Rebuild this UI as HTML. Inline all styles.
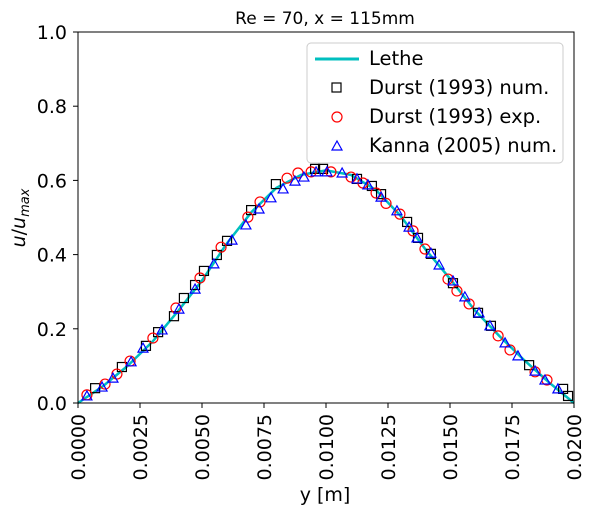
<!DOCTYPE html>
<html><head><meta charset="utf-8"><style>
html,body{margin:0;padding:0;background:#fff;}
svg{display:block;font-family:"DejaVu Sans","Liberation Sans",sans-serif;}
</style></head><body>
<svg id="chart" width="593" height="515" viewBox="0 0 593 515">
<text x="325" y="24" font-size="17" text-anchor="middle">Re = 70, x = 115mm</text>
<g id="lines"></g>
<g id="marks"></g>
<rect x="78" y="32" width="496" height="371" fill="none" stroke="#000" stroke-width="1"/>
<g id="axes"></g>
<text x="325" y="501" font-size="19" text-anchor="middle">y [m]</text>
<text transform="translate(25,218) rotate(-90)" font-size="19" text-anchor="middle"><tspan font-style="italic">u</tspan>/<tspan font-style="italic">u</tspan><tspan font-style="italic" font-size="13" dy="4">max</tspan></text>
<g>
<rect x="307" y="43" width="256" height="120" rx="4" fill="#fff" fill-opacity="0.8" stroke="#ccc"/>
<line x1="315" y1="59" x2="359" y2="59" stroke="#00bfbf" stroke-width="3"/>
<text x="369" y="65" font-size="19.5">Lethe</text>
<rect x="332" y="83" width="9" height="9" fill="none" stroke="#000" stroke-width="1.2"/>
<text x="369" y="94" font-size="19.5">Durst (1993) num.</text>
<circle cx="337" cy="117" r="5" fill="none" stroke="#f00" stroke-width="1.2"/>
<text x="369" y="123" font-size="19.5">Durst (1993) exp.</text>
<path d="M337,141 L342,150 L332,150 Z" fill="none" stroke="#00f" stroke-width="1.2"/>
<text x="369" y="152" font-size="19.5">Kanna (2005) num.</text>
</g>
</svg>
<script>
const xTicks=[0,0.0025,0.005,0.0075,0.01,0.0125,0.015,0.0175,0.02];
const xTickLabels=["0.0000","0.0025","0.0050","0.0075","0.0100","0.0125","0.0150","0.0175","0.0200"];
const yTicks=[0,0.2,0.4,0.6,0.8,1.0];
const yTickLabels=["0.0","0.2","0.4","0.6","0.8","1.0"];
const letheX=[0,0.001,0.002,0.003,0.004,0.005,0.006,0.007,0.008,0.009,0.010,0.011,0.012,0.013,0.014,0.015,0.016,0.017,0.018,0.019,0.020];
const letheY=[0,0.045,0.1,0.165,0.245,0.33,0.43,0.515,0.58,0.615,0.627,0.615,0.575,0.505,0.415,0.335,0.25,0.18,0.115,0.055,0];
const durstNumX=[0.00069,0.00177,0.00274,0.00323,0.00387,0.00427,0.00472,0.00508,0.0056,0.00601,0.00698,0.00798,0.00956,0.00988,0.01125,0.01185,0.01222,0.01327,0.01371,0.01423,0.01512,0.01613,0.01665,0.01819,0.01956,0.01976];
const durstNumY=[0.040,0.097,0.154,0.191,0.234,0.283,0.318,0.356,0.399,0.437,0.520,0.590,0.631,0.631,0.604,0.585,0.563,0.488,0.445,0.402,0.323,0.243,0.208,0.102,0.038,0.019];
const durstExpX=[0.00036,0.00109,0.00157,0.0021,0.00302,0.00395,0.00492,0.00577,0.00685,0.00734,0.00843,0.00887,0.0094,0.0102,0.01101,0.01149,0.01202,0.01242,0.01298,0.01351,0.01399,0.01492,0.01528,0.01577,0.01694,0.01742,0.01843,0.01891];
const durstExpY=[0.022,0.051,0.078,0.113,0.175,0.256,0.337,0.420,0.501,0.542,0.606,0.620,0.623,0.623,0.609,0.593,0.566,0.538,0.509,0.464,0.415,0.334,0.302,0.267,0.181,0.143,0.084,0.062];
const kannaX=[0.00036,0.00097,0.00141,0.00214,0.00262,0.00339,0.00407,0.00472,0.00548,0.00621,0.00677,0.0073,0.00778,0.00827,0.00875,0.00911,0.0096,0.01004,0.01065,0.01125,0.01169,0.01222,0.01286,0.01335,0.01367,0.01423,0.01456,0.01512,0.0156,0.01617,0.01661,0.01722,0.01774,0.01843,0.01883,0.01935];
const kannaY=[0.019,0.043,0.067,0.111,0.148,0.197,0.253,0.307,0.375,0.439,0.480,0.523,0.553,0.577,0.598,0.609,0.623,0.623,0.620,0.604,0.588,0.555,0.518,0.474,0.445,0.404,0.372,0.329,0.286,0.243,0.208,0.162,0.127,0.086,0.062,0.038];

const NS="http://www.w3.org/2000/svg";
const X0=78,X1=574,Y0=403,Y1=32;
function sx(v){return X0+(v-0)/(0.02-0)*(X1-X0);}
function sy(v){return Y0-(v-0)/(1-0)*(Y0-Y1);}
function mk(tag,attrs,parent){const e=document.createElementNS(NS,tag);for(const k in attrs)e.setAttribute(k,attrs[k]);parent.appendChild(e);return e;}
const axes=document.getElementById('axes'),lines=document.getElementById('lines'),marks=document.getElementById('marks');
xTicks.forEach((t,i)=>{
  const l=mk('line',{x1:sx(t),x2:sx(t),y1:Y0,y2:Y0+5,stroke:'#000'},axes);
  
  
  const tx=mk('text',{transform:`translate(${sx(t)+7},${Y0+11}) rotate(-90)`,'font-size':'19','text-anchor':'end'},axes);
  tx.textContent=xTickLabels[i];
  
  
});
yTicks.forEach((t,i)=>{
  const l=mk('line',{x1:X0-5,x2:X0,y1:sy(t),y2:sy(t),stroke:'#000'},axes);
  
  
  const tx=mk('text',{x:X0-11,y:sy(t)+7,'font-size':'19','text-anchor':'end'},axes);
  tx.textContent=yTickLabels[i];
  
  
});
const pts=letheX.map((x,i)=>sx(x)+','+sy(letheY[i])).join(' ');
const pl=mk('polyline',{points:pts,fill:'none',stroke:'#00bfbf','stroke-width':'2.5','stroke-linejoin':'round'},lines);


durstNumX.forEach((x,i)=>{
  const r=mk('rect',{x:sx(x)-4.5,y:sy(durstNumY[i])-4.5,width:9,height:9,fill:'none',stroke:'#000','stroke-width':'1.2'},marks);
  
  
});
durstExpX.forEach((x,i)=>{
  const c=mk('circle',{cx:sx(x),cy:sy(durstExpY[i]),r:5,fill:'none',stroke:'#f00','stroke-width':'1.2'},marks);
  
  
});
kannaX.forEach((x,i)=>{
  const cx=sx(x),cy=sy(kannaY[i]);
  const p=mk('path',{d:`M${cx},${cy-5} L${cx+5},${cy+4} L${cx-5},${cy+4} Z`,fill:'none',stroke:'#00f','stroke-width':'1.2'},marks);
  
  
});
</script>
</body></html>
